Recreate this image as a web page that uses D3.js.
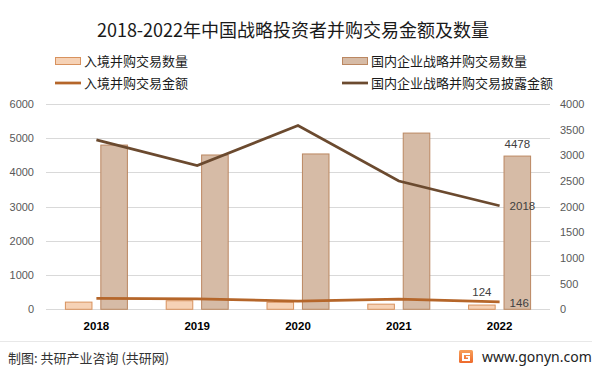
<!DOCTYPE html>
<html>
<head>
<meta charset="utf-8">
<script src="https://cdn.jsdelivr.net/npm/d3@7"></script>
<style>
  body { margin: 0; background: #fff; }
  svg { display: block; }
  text { font-family: "Liberation Sans", "Noto Sans CJK SC", sans-serif; }
  .cjk { font-family: "Noto Sans CJK SC", sans-serif; }
</style>
</head>
<body>
<div id="chart"></div>
<script>
// 数据
var years = ["2018", "2019", "2020", "2021", "2022"];
var inboundCount = [210, 250, 205, 150, 124];       // 入境并购交易数量 (左轴)
var domesticCount = [4800, 4510, 4540, 5150, 4478];  // 国内企业战略并购交易数量 (左轴)
var inboundAmount = [215, 205, 160, 200, 146];       // 入境并购交易金额 (右轴)
var domesticAmount = [3300, 2800, 3580, 2500, 2018]; // 国内企业战略并购交易披露金额 (右轴)
var leftTicks = [0, 1000, 2000, 3000, 4000, 5000, 6000];
var rightTicks = [0, 500, 1000, 1500, 2000, 2500, 3000, 3500, 4000];

var width = 601, height = 376;
var plot = { left: 46, right: 550, top: 104, bottom: 309.3 };

var svg = d3.select("#chart").append("svg")
  .attr("width", width)
  .attr("height", height);

svg.append("rect").attr("width", width).attr("height", height).attr("fill", "#fff");

var x = d3.scaleBand().domain(years).range([plot.left, plot.right]).padding(0);
var xc = function (d) { return x(d) + x.bandwidth() / 2; };
var x1 = d3.scaleBand().domain(["in", "dom"]).range([-31, 31]).paddingInner(0.25);

var yL = d3.scaleLinear().domain([0, 6000]).range([plot.bottom, plot.top]);
var yR = d3.scaleLinear().domain([0, 4000]).range([plot.bottom, plot.top]);

// 网格线
svg.append("g").selectAll("line")
  .data(leftTicks)
  .enter().append("line")
  .attr("x1", plot.left).attr("x2", plot.right)
  .attr("y1", function (d) { return Math.round(yL(d)) + 0.5; })
  .attr("y2", function (d) { return Math.round(yL(d)) + 0.5; })
  .attr("stroke", "#d9d9d9")
  .attr("stroke-width", 1);

// 左轴
var axisL = svg.append("g")
  .attr("transform", "translate(" + (plot.left - 12) + ",0)")
  .call(d3.axisLeft(yL).tickValues(leftTicks).tickFormat(d3.format("d")).tickSize(0).tickPadding(0));
axisL.select(".domain").remove();
axisL.selectAll("text").attr("fill", "#595959").style("font-size", "11px");

// 右轴
var axisR = svg.append("g")
  .attr("transform", "translate(" + (plot.right + 10) + ",0)")
  .call(d3.axisRight(yR).tickValues(rightTicks).tickFormat(d3.format("d")).tickSize(0).tickPadding(0));
axisR.select(".domain").remove();
axisR.selectAll("text").attr("fill", "#595959").style("font-size", "11px");

// x 轴标签
var axisX = svg.append("g")
  .attr("transform", "translate(0," + (plot.bottom + 10) + ")")
  .call(d3.axisBottom(x).tickSize(0).tickPadding(0));
axisX.select(".domain").remove();
axisX.selectAll("text")
  .attr("fill", "#000")
  .attr("dy", "0.95em")
  .style("font-size", "11.5px")
  .style("font-weight", "bold");

// 柱子
svg.append("g").selectAll("rect")
  .data(years)
  .enter().append("rect")
  .attr("x", function (d) { return xc(d) + x1("in"); })
  .attr("y", function (d, i) { return yL(inboundCount[i]); })
  .attr("width", x1.bandwidth())
  .attr("height", function (d, i) { return plot.bottom - yL(inboundCount[i]); })
  .attr("fill", "#f6d2b6")
  .attr("stroke", "#d8925e")
  .attr("stroke-width", 1);

svg.append("g").selectAll("rect")
  .data(years)
  .enter().append("rect")
  .attr("x", function (d) { return xc(d) + x1("dom"); })
  .attr("y", function (d, i) { return yL(domesticCount[i]); })
  .attr("width", x1.bandwidth())
  .attr("height", function (d, i) { return plot.bottom - yL(domesticCount[i]); })
  .attr("fill", "#d6bba6")
  .attr("stroke", "#bb8761")
  .attr("stroke-width", 1);

// 折线
var lineR = d3.line()
  .x(function (d, i) { return xc(years[i]); })
  .y(function (d) { return yR(d); });

svg.append("path")
  .datum(inboundAmount)
  .attr("d", lineR)
  .attr("fill", "none")
  .attr("stroke", "#b5662a")
  .attr("stroke-width", 2.75);

svg.append("path")
  .datum(domesticAmount)
  .attr("d", lineR)
  .attr("fill", "none")
  .attr("stroke", "#6b4a2f")
  .attr("stroke-width", 2.75);

// 数据标签 (只标最后一年)
var last = years.length - 1;
var lbl = svg.append("g").style("font-size", "11.5px").attr("fill", "#404040");
lbl.append("text")
  .attr("x", xc(years[last]) + x1("dom") + x1.bandwidth() / 2)
  .attr("y", yL(domesticCount[last]) - 8)
  .attr("text-anchor", "middle")
  .text(domesticCount[last]);
lbl.append("text")
  .attr("x", xc(years[last]) + x1("in") + x1.bandwidth() / 2)
  .attr("y", yL(inboundCount[last]) - 9)
  .attr("text-anchor", "middle")
  .text(inboundCount[last]);
lbl.append("text")
  .attr("x", xc(years[last]) + 10)
  .attr("y", yR(domesticAmount[last]))
  .attr("dy", "0.35em")
  .text(domesticAmount[last]);
lbl.append("text")
  .attr("x", xc(years[last]) + 10)
  .attr("y", yR(inboundAmount[last]) + 1)
  .attr("dy", "0.35em")
  .text(inboundAmount[last]);

// 标题
svg.append("text")
  .attr("class", "cjk")
  .attr("x", 293)
  .attr("y", 37)
  .attr("text-anchor", "middle")
  .attr("fill", "#1a1a1a")
  .style("font-size", "18px")
  .text("2018-2022年中国战略投资者并购交易金额及数量");

// 图例
var legendItems = [
  { name: "入境并购交易数量", type: "rect", fill: "#f6d2b6", stroke: "#d8925e", x: 55, y: 61 },
  { name: "国内企业战略并购交易数量", type: "rect", fill: "#d6bba6", stroke: "#bb8761", x: 342, y: 61 },
  { name: "入境并购交易金额", type: "line", stroke: "#b5662a", x: 55, y: 83 },
  { name: "国内企业战略并购交易披露金额", type: "line", stroke: "#6b4a2f", x: 342, y: 83 }
];
var lg = svg.append("g").selectAll("g")
  .data(legendItems)
  .enter().append("g")
  .attr("transform", function (d) { return "translate(" + d.x + "," + d.y + ")"; });
lg.filter(function (d) { return d.type === "rect"; })
  .append("rect")
  .attr("x", 0.5).attr("y", -3.5)
  .attr("width", 25).attr("height", 7)
  .attr("fill", function (d) { return d.fill; })
  .attr("stroke", function (d) { return d.stroke; });
lg.filter(function (d) { return d.type === "line"; })
  .append("line")
  .attr("x1", 0).attr("x2", 26)
  .attr("y1", 0).attr("y2", 0)
  .attr("stroke", function (d) { return d.stroke; })
  .attr("stroke-width", 2.75);
lg.append("text")
  .attr("class", "cjk")
  .attr("x", 29)
  .attr("dy", "0.36em")
  .attr("fill", "#1a1a1a")
  .style("font-size", "13px")
  .text(function (d) { return d.name; });

// 底部
svg.append("line")
  .attr("x1", 0).attr("x2", 592)
  .attr("y1", 341.5).attr("y2", 341.5)
  .attr("stroke", "#e8e8e8");
svg.append("text")
  .attr("class", "cjk")
  .attr("x", 8).attr("y", 358)
  .attr("dy", "0.36em")
  .attr("fill", "#333")
  .style("font-size", "13px")
  .text("制图: 共研产业咨询 (共研网)");

var grad = svg.append("defs").append("linearGradient")
  .attr("id", "logoGrad").attr("x1", 0).attr("y1", 0).attr("x2", 0).attr("y2", 1);
grad.append("stop").attr("offset", "0%").attr("stop-color", "#f7a05a");
grad.append("stop").attr("offset", "100%").attr("stop-color", "#ee6a2c");
svg.append("rect")
  .attr("x", 459).attr("y", 350).attr("width", 14).attr("height", 13).attr("rx", 1.5)
  .attr("fill", "url(#logoGrad)");
svg.append("path")
  .attr("d", "M462,353 h8 v2 h-6 v4 h4 v-1.5 h-2 v-1.5 h4 v5 h-8 z")
  .attr("fill", "#fff");
svg.append("text")
  .attr("x", 482).attr("y", 357)
  .attr("dy", "0.36em")
  .attr("fill", "#222")
  .style("font-family", "'Noto Sans', sans-serif")
  .style("font-size", "14px")
  .text("www.gonyn.com");
</script>
</body>
</html>
